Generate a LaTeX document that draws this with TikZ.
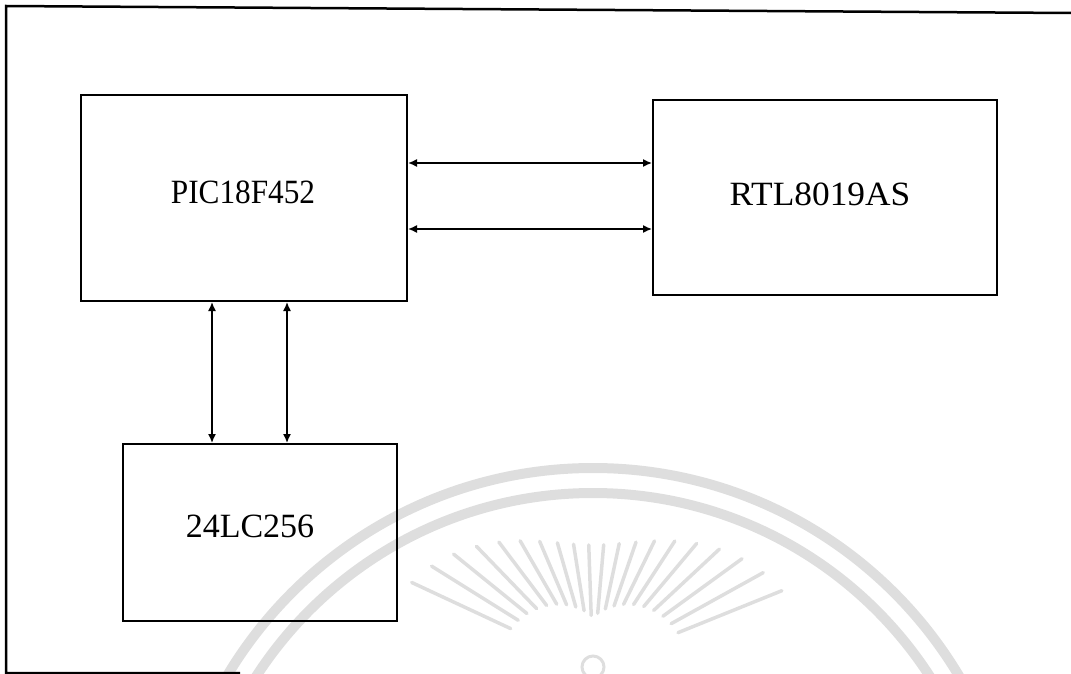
\documentclass[tikz,border=0pt]{standalone}
\usepackage{fontspec}
\setmainfont{Liberation Serif}
\usetikzlibrary{arrows.meta,calc}
\begin{document}
\begin{tikzpicture}[x=1pt,y=-1pt,
 blk/.style={draw=black, line width=2pt, rectangle, inner sep=0pt},
 lbl/.style={anchor=base, inner sep=0pt, font=\fontsize{34}{40}\selectfont},
 link/.style={line width=1.5pt, {Latex[length=9pt,width=8pt]}-{Latex[length=9pt,width=8pt]}},
 wm/.style={draw=black!13, line cap=round},
 frm/.style={line width=2.5pt, draw=black}]
\useasboundingbox (0,0) rectangle (1071,674);
% faint watermark
\begin{scope}
\clip (0,0) rectangle (1071,674);
\coordinate (wc) at (593,667);
\draw[wm, line width=10pt] (593,894) circle[radius=426pt];
\draw[wm, line width=10pt] (593,894) circle[radius=401pt];
\draw[wm, line width=3pt] (wc) circle[radius=11pt];
\foreach \a in {22,29,...,160} {
  \pgfmathsetmacro\ro{122+95*cos(\a)*cos(\a)}
  \pgfmathsetmacro\ri{50+45*abs(cos(\a))}
  \draw[wm, line width=3.5pt] ($(wc)+({cos(\a)*\ri},{-sin(\a)*\ri})$) -- ($(wc)+({cos(\a)*\ro},{-sin(\a)*\ro})$);
}
\end{scope}
% outer frame
\coordinate (f1) at (6,673);
\coordinate (f2) at (6,6);
\coordinate (f3) at (1071,13);
\coordinate (f4) at (240,673);
\draw[frm] (f3) -- (f2) -- (f1) -- (f4);
% blocks
\node[blk, minimum width=326pt, minimum height=206pt] (pic) at (244,198) {};
\node[blk, minimum width=344pt, minimum height=195pt] (rtl) at (825,197.5) {};
\node[blk, minimum width=274pt, minimum height=177pt] (eep) at (260,532.5) {};
\node[lbl] (picT) at (243,203) {\scalebox{0.92}[1]{PIC18F452}};
\node[lbl] (rtlT) at (820,205) {\scalebox{1.04}[1]{RTL8019AS}};
\node[lbl] (eepT) at (250,537) {24LC256};
% connectors
\coordinate (y1) at (0,163);
\coordinate (y2) at (0,229);
\coordinate (x1) at (212,0);
\coordinate (x2) at (287,0);
\draw[link] (pic.east |- y1) -- (rtl.west |- y1);
\draw[link] (pic.east |- y2) -- (rtl.west |- y2);
\draw[link] (pic.south -| x1) -- (eep.north -| x1);
\draw[link] (pic.south -| x2) -- (eep.north -| x2);
\end{tikzpicture}
\end{document}
